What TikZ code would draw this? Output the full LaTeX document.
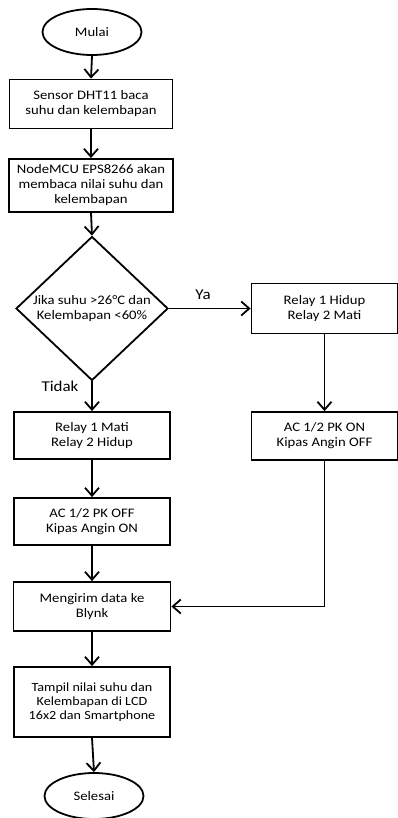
\documentclass[tikz,border=0pt]{standalone}
\usepackage{fontspec}
\setmainfont{Carlito}[FakeStretch=1.13]
\usetikzlibrary{shapes.geometric,arrows.meta}

\begin{document}
\begin{tikzpicture}[x=1pt, y=-1pt, line width=1.8pt,
	proses/.style={draw, rectangle, align=center, inner sep=0pt, font=\fontsize{13}{15}\selectfont},
	terminal/.style={draw, ellipse, minimum width=99pt, minimum height=46pt, inner sep=0pt, font=\fontsize{13}{15}\selectfont},
	keputusan/.style={draw, diamond, minimum width=152pt, minimum height=131pt, inner sep=0pt, align=center, font=\fontsize{13}{15}\selectfont},
	panah/.style={-{Straight Barb[length=8pt,width=14pt]}},
	teks/.style={font=\fontsize{15}{17}\selectfont}]

	\useasboundingbox (0,0) rectangle (398,818);

	\node[terminal] (mulai) at (92,32) {Mulai};
	\node[proses, minimum width=163pt, minimum height=49pt] (sensor) at (91,104) {Sensor DHT11 baca\\suhu dan kelembapan};
	\node[proses, minimum width=164pt, minimum height=53pt] (nodemcu) at (91,185.5) {NodeMCU EPS8266 akan\\membaca nilai suhu dan\\kelembapan};

	\node[keputusan] (cek) at (92,308.5) {Jika suhu >26°C dan\\Kelembapan <60\%};
	\node[teks] (ya) at (203,295) {Ya};
	\node[teks] (tidak) at (60,386) {Tidak};

	% cabang ya
	\node[proses, minimum width=146pt, minimum height=50pt] (hidup) at (324.5,308.5) {Relay 1 Hidup\\Relay 2 Mati};
	\node[proses, minimum width=146pt, minimum height=48pt] (acon) at (324.5,436) {AC 1/2 PK ON\\Kipas Angin OFF};

	% cabang tidak
	\node[proses, minimum width=156pt, minimum height=47pt] (mati) at (92,435.5) {Relay 1 Mati\\Relay 2 Hidup};
	\node[proses, minimum width=156pt, minimum height=47pt] (acoff) at (92,521.5) {AC 1/2 PK OFF\\Kipas Angin ON};

	\node[proses, minimum width=157pt, minimum height=49pt] (kirim) at (92,606.5) {Mengirim data ke\\Blynk};
	\node[proses, minimum width=156pt, minimum height=70pt, font=\fontsize{12.5}{14.3}\selectfont] (tampil) at (92,702) {Tampil nilai suhu dan\\Kelembapan di LCD\\16x2 dan Smartphone};
	\node[terminal] (selesai) at (94,796) {Selesai};

	\draw[panah] (mulai.south) -- (sensor.north);
	\draw[panah] (sensor.south) -- (nodemcu.north);
	\draw[panah] (nodemcu.south) -- (cek.north);
	\draw[panah] (cek.east) -- (hidup.west);
	\draw[panah] (cek.south) -- (mati.north);
	\draw[panah] (hidup.south) -- (acon.north);
	\draw[panah] (mati.south) -- (acoff.north);
	\draw[panah] (acoff.south) -- (kirim.north);
	\draw[panah] (acon.south) |- (kirim.east);
	\draw[panah] (kirim.south) -- (tampil.north);
%	\draw[panah] (tampil) -- (selesai);
	\draw[panah] (tampil.south) -- (selesai.north);

\end{tikzpicture}
\end{document}
